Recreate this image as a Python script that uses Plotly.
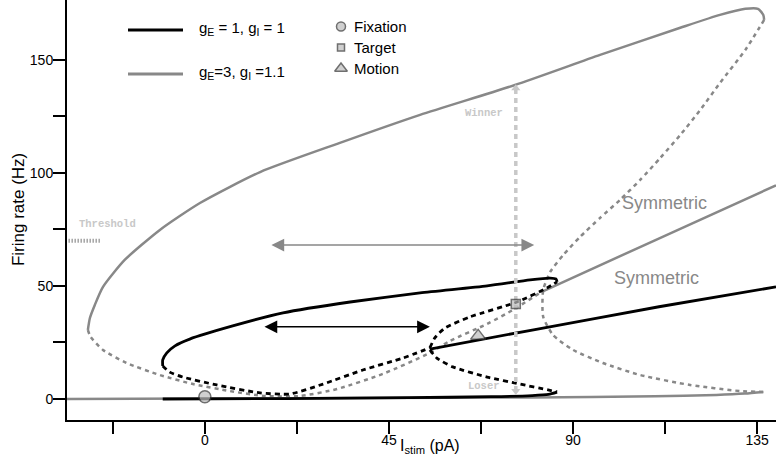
import plotly.graph_objects as go

# --- axes ---
X_RANGE = [-33.7, 139.6]
Y_RANGE = [-9.3, 176.5]
X_TICKS = [-22.5, 0, 22.5, 45, 67.5, 90, 112.5, 135]
X_LABELS = ["", "0", "", "45", "", "90", "", "135"]
Y_TICKS = [0, 25, 50, 75, 100, 125, 150]
Y_LABELS = ["0", "", "50", "", "100", "", "150"]

# --- g_E = 1, g_I = 1 (black) ---
blk_win_x = [-10.3, -10.3, -9.3, -7.3, -3.7, 6.8, 19.1, 35.5, 52.6, 69.0, 79.5, 84.4, 85.8, 86.1]
blk_win_y = [14.6, 17.3, 20.4, 23.5, 26.5, 32.3, 38.1, 42.9, 46.9, 50.0, 52.7, 53.5, 53.1, 51.8]
blk_uns1_x = [-10.3, -8.6, -5.4, 2.9, 13.5, 20.8, 28.9, 38.6, 48.4, 55.0]
blk_uns1_y = [14.6, 11.9, 9.7, 6.2, 2.7, 2.2, 6.6, 12.8, 18.1, 22.6]
blk_uns2_x = [55.0, 56.2, 58.7, 64.8, 76.3, 83.6, 86.1]
blk_uns2_y = [22.6, 27.0, 31.4, 36.3, 42.9, 49.1, 51.8]
blk_uns3_x = [55.0, 56.7, 60.6, 69.0, 77.0, 83.9, 86.1]
blk_uns3_y = [21.7, 18.1, 14.2, 9.7, 6.6, 4.0, 3.1]
blk_los_x = [-10.3, 20, 50, 70, 80, 84, 86.1]
blk_los_y = [0.0, 0.2, 0.6, 1.0, 1.5, 2.0, 3.0]
blk_sym_x = [55.0, 80.0, 111.0, 139.6]
blk_sym_y = [22.1, 30.5, 40.8, 49.6]

# --- g_E = 3, g_I = 1.1 (grey) ---
gry_win_x = [-28.6, -28.1, -26.9, -24.9, -19.6, -11.0, -1.2, 13.5, 33.0, 52.6, 75.8, 96.6,
             116.2, 125.9, 132.1, 135.2, 136.5, 136.7]
gry_win_y = [30.5, 35.8, 41.6, 49.6, 61.5, 74.8, 86.7, 100.4, 113.3, 125.7, 138.9, 152.2,
             164.2, 169.9, 172.6, 172.6, 169.9, 167.7]
gry_uns1_x = [-28.6, -27.9, -24.9, -19.1, -11.0, -2.9, 6.1, 14.7, 23.2, 32.3, 43.5, 55.0,
              59.9, 69.0, 75.3, 82.2]
gry_uns1_y = [30.5, 27.4, 21.7, 15.9, 10.6, 6.6, 3.5, 1.3, 1.3, 4.4, 11.1, 20.4,
              25.7, 33.2, 39.4, 47.3]
gry_uns2_x = [136.7, 132.1, 125.9, 121.1, 116.2, 111.3, 106.4, 101.5, 96.6, 91.7, 87.6,
              84.4, 82.7, 82.7, 85.1, 90.0, 97.3, 106.4, 118.6, 130.8, 136.5]
gry_uns2_y = [167.7, 154.4, 139.8, 127.9, 116.8, 106.6, 96.9, 88.1, 80.1, 71.7, 63.7,
              56.2, 48.2, 36.3, 28.3, 21.7, 15.9, 10.6, 6.2, 3.5, 3.1]
gry_los_x = [-33.7, 0, 40, 80, 110, 125, 132, 136.5]
gry_los_y = [0.0, 0.2, 0.4, 0.7, 1.2, 1.8, 2.4, 3.1]
gry_sym_x = [82.2, 110.0, 139.6]
gry_sym_y = [47.3, 70.2, 94.5]

# --- task epochs ---
epoch_names = ["Fixation", "Target", "Motion"]
epoch_x = [0.0, 76.0, 66.8]
epoch_y = [1.0, 42.0, 27.9]
epoch_symbols = ["circle", "square", "triangle-up"]
epoch_sizes = [12, 9, 13]

# --- annotations in data units ---
threshold_x = [-33.3, -25.3]
threshold_y = 70
decision_x = 76.0
decision_y = [3.5, 137.5]
arrow_grey_x = [15.9, 80.5]
arrow_grey_y = 68.1
arrow_black_x = [14.2, 55.0]
arrow_black_y = 31.9

BLACK = "#000000"
GREY = "#888888"
LIGHT = "#c8c8c8"
FILL = "#bdbdbd"
FONT = "Liberation Sans, Arial, Helvetica, sans-serif"
MONO = "Liberation Mono, Courier New, monospace"

fig = go.Figure()


def curve(x, y, color, dash="solid", width=2.5):
    fig.add_trace(go.Scatter(
        x=x, y=y, mode="lines", showlegend=False, hoverinfo="skip",
        line=dict(color=color, width=width, dash=dash, shape="spline", smoothing=0.6),
    ))


# grey first so black sits on top
curve(gry_los_x, gry_los_y, GREY)
curve(gry_uns1_x, gry_uns1_y, GREY, "4px,4px")
curve(gry_uns2_x, gry_uns2_y, GREY, "4px,4px")
curve(gry_win_x, gry_win_y, GREY)
curve(gry_sym_x, gry_sym_y, GREY)

curve(blk_los_x, blk_los_y, BLACK, width=2.8)
curve(blk_uns1_x, blk_uns1_y, BLACK, "5px,4px", 2.8)
curve(blk_uns2_x, blk_uns2_y, BLACK, "5px,4px", 2.8)
curve(blk_uns3_x, blk_uns3_y, BLACK, "5px,4px", 2.8)
curve(blk_win_x, blk_win_y, BLACK, width=2.8)
curve(blk_sym_x, blk_sym_y, BLACK, width=2.8)

# threshold marker
fig.add_trace(go.Scatter(
    x=threshold_x, y=[threshold_y, threshold_y], mode="lines", showlegend=False,
    line=dict(color="#777777", width=4, dash="1px,2px"), hoverinfo="skip",
))

# winner / loser dotted arrow
fig.add_trace(go.Scatter(
    x=[decision_x, decision_x], y=decision_y, mode="lines+markers", showlegend=False,
    line=dict(color=LIGHT, width=3.5, dash="5px,4px"),
    marker=dict(symbol=["triangle-down", "triangle-up"], size=8, color=LIGHT),
    hoverinfo="skip",
))

# epochs
fig.add_trace(go.Scatter(
    x=epoch_x, y=epoch_y, mode="markers", showlegend=False, text=epoch_names,
    marker=dict(symbol=epoch_symbols, size=epoch_sizes, color=FILL,
                line=dict(color="#333333", width=1.5)),
))

for ax_x, ay, col in [(arrow_grey_x, arrow_grey_y, GREY), (arrow_black_x, arrow_black_y, BLACK)]:
    fig.add_annotation(
        x=ax_x[1], y=ay, ax=ax_x[0], ay=ay, xref="x", yref="y", axref="x", ayref="y",
        text="", showarrow=True, arrowhead=2, arrowside="end+start",
        arrowsize=1.7, arrowwidth=1.5, arrowcolor=col,
    )

# labels
fig.add_annotation(x=101.5, y=86.7, text="Symmetric", showarrow=False, xanchor="left",
                   font=dict(family=FONT, size=18, color=GREY))
fig.add_annotation(x=99.5, y=53.5, text="Symmetric", showarrow=False, xanchor="left",
                   font=dict(family=FONT, size=18, color=GREY))
fig.add_annotation(x=-31.3, y=77.4, text="<b>Threshold</b>", showarrow=False, xanchor="left",
                   font=dict(family=MONO, size=10.5, color=LIGHT))
fig.add_annotation(x=73.3, y=126.5, text="<b>Winner</b>", showarrow=False, xanchor="right",
                   font=dict(family=MONO, size=10.5, color=LIGHT))
fig.add_annotation(x=72.6, y=5.8, text="<b>Loser</b>", showarrow=False, xanchor="right",
                   font=dict(family=MONO, size=10.5, color=LIGHT))

# legend drawn on an overlay axis measured in page pixels
leg_line_x = [128, 183]
leg_line_y = [30, 74]
leg_line_col = [BLACK, GREY]
leg_line_txt = ["g<sub>E</sub> = 1, g<sub>I</sub> = 1", "g<sub>E</sub>=3, g<sub>I</sub> =1.1"]
leg_mark_x = 341
leg_mark_y = [26.5, 47.5, 68.5]
leg_mark_sizes = [9, 7, 11]

for ly, col, txt in zip(leg_line_y, leg_line_col, leg_line_txt):
    fig.add_trace(go.Scatter(
        x=leg_line_x, y=[ly, ly], xaxis="x2", yaxis="y2", mode="lines", showlegend=False,
        line=dict(color=col, width=3), hoverinfo="skip",
    ))
    fig.add_annotation(x=197, y=ly - 2, xref="x2", yref="y2", text=txt, showarrow=False,
                       xanchor="left", font=dict(family=FONT, size=15, color=BLACK))

fig.add_trace(go.Scatter(
    x=[leg_mark_x] * 3, y=leg_mark_y, xaxis="x2", yaxis="y2", mode="markers",
    showlegend=False, hoverinfo="skip",
    marker=dict(symbol=epoch_symbols, size=leg_mark_sizes, color=FILL,
                line=dict(color="#333333", width=1.5)),
))
for ly, name in zip(leg_mark_y, epoch_names):
    fig.add_annotation(x=352, y=ly, xref="x2", yref="y2", text=name, showarrow=False,
                       xanchor="left", font=dict(family=FONT, size=15, color=BLACK))

# axis titles
fig.add_annotation(x=55.0, y=-0.035, xref="x", yref="paper", yanchor="top", xanchor="center",
                   text="I<sub>stim</sub> (pA)", showarrow=False,
                   font=dict(family=FONT, size=16, color=BLACK))
fig.add_annotation(x=-0.069, y=0.5, xref="paper", yref="paper", textangle=-90,
                   xanchor="center", yanchor="middle",
                   text="Firing rate (Hz)", showarrow=False,
                   font=dict(family=FONT, size=17, color=BLACK))

axis_common = dict(showgrid=False, zeroline=False, showline=True, linecolor=BLACK,
                   linewidth=2, ticks="outside", ticklen=12, tickwidth=2, tickcolor=BLACK,
                   tickfont=dict(family=FONT, size=14, color=BLACK))

fig.update_layout(
    width=776, height=460,
    margin=dict(l=67, r=0, t=0, b=40),
    paper_bgcolor="white", plot_bgcolor="white",
    showlegend=False,
    xaxis=dict(range=X_RANGE, tickmode="array", tickvals=X_TICKS, ticktext=X_LABELS,
               ticklabelstandoff=-6, **axis_common),
    yaxis=dict(range=Y_RANGE, tickmode="array", tickvals=Y_TICKS, ticktext=Y_LABELS,
               ticklabelstandoff=-3, **axis_common),
    xaxis2=dict(range=[67, 776], visible=False, overlaying="x", anchor="y2"),
    yaxis2=dict(range=[420, 0], visible=False, overlaying="y", anchor="x2"),
)

fig.write_html("out.html", config={"displayModeBar": False},
               post_script="document.body.style.margin = '0';")
